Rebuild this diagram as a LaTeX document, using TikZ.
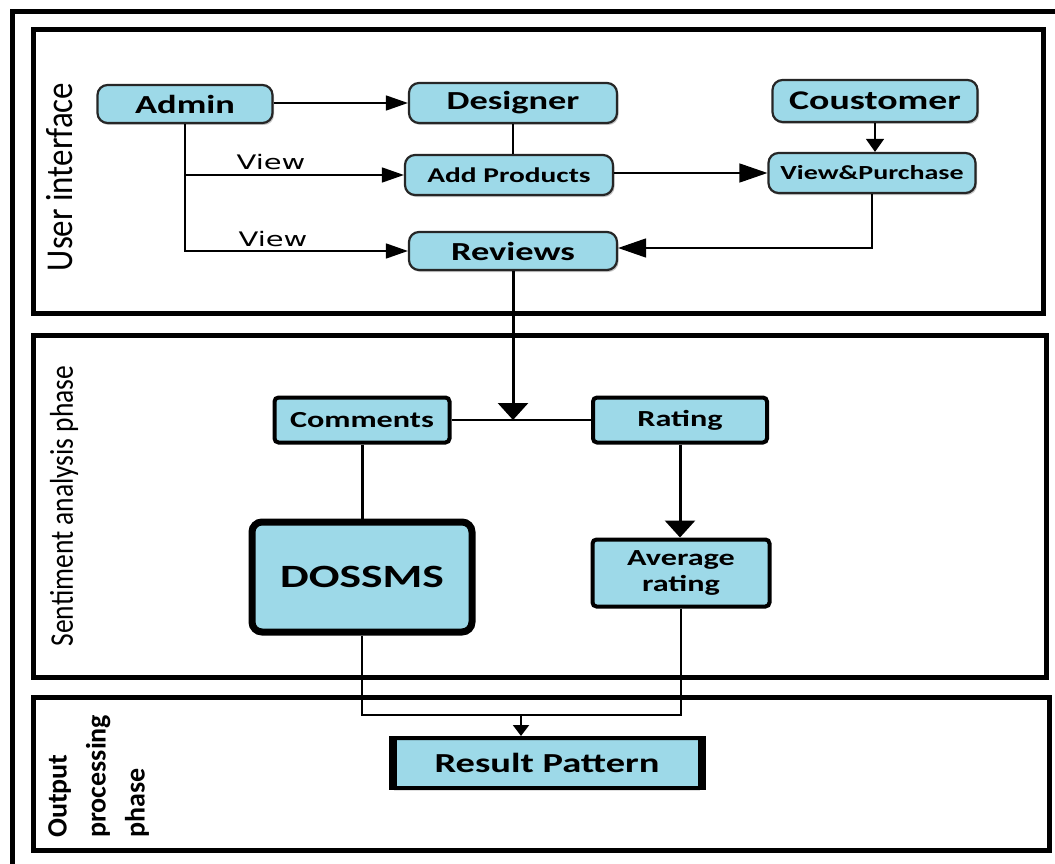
\documentclass[tikz,border=0pt]{standalone}
\usepackage{fontspec}
\usepackage{graphicx}
\setmainfont{Carlito}
\newfontfamily\boxf[FakeStretch=1.4]{Carlito}
\newfontfamily\viewf[FakeStretch=1.45]{DejaVu Sans}
\usetikzlibrary{arrows.meta,shadows}
\definecolor{boxblue}{RGB}{157,217,232}
\newcommand{\fsz}[2][]{\fontsize{#2}{#2}\selectfont}
\begin{document}
\begin{tikzpicture}[x=1pt,y=-1pt,
  topbox/.style={draw=black!85, line width=2.2pt, fill=boxblue, rounded corners=10pt, inner sep=0pt,
    drop shadow={opacity=0.45,shadow xshift=1.5pt,shadow yshift=-2pt}},
  sabox/.style={draw=black, line width=4pt, fill=boxblue, rounded corners=4pt, inner sep=0pt},
  boxtext/.style={font=\boxf\bfseries\fsz{#1}},
  frame/.style={line width=5pt},
  conn/.style={line width=1.5pt},
  thickconn/.style={line width=3pt},
  headA/.style={-{Triangle[length=22pt,width=15pt]}},
  headB/.style={-{Triangle[length=28pt,width=19pt]}},
  headC/.style={-{Triangle[length=13pt,width=18pt]}},
  headD/.style={-{Triangle[length=17pt,width=30pt]}},
  headE/.style={-{Triangle[length=11pt,width=16pt]}},
  viewlab/.style={font=\viewf\fsz{20}, anchor=base, inner sep=0pt}
]
\useasboundingbox (0,0) rectangle (1055,864);
\fill[white] (0,0) rectangle (1055,864);

% frames
\draw[frame] (12,864) -- (12,12) -- (1055,12);
\draw[frame] (33,30) rectangle (1043,313);
\draw[frame] (33,335) rectangle (1046,677);
\draw[frame] (33,697) rectangle (1049,850);

% section labels
\node[rotate=90, font=\fsz{33}, inner sep=0pt] (lui) at (60,177) {\scalebox{1}[1.15]{User interface}};
\node[rotate=90, font=\fsz{27.5}, inner sep=0pt] (lsa) at (64,506) {\scalebox{1}[1.2]{Sentiment analysis phase}};
\node[rotate=90, anchor=north west, align=left, font=\bfseries\fontsize{28}{39}\selectfont, inner sep=0pt] (lop) at (48,838) {Output\\processing\\phase};

% user interface nodes
\node[topbox, boxtext=26, minimum width=175pt, minimum height=38pt] (admin) at (185,104) {Admin};
\node[topbox, boxtext=26, minimum width=208pt, minimum height=40pt] (designer) at (513,103) {Designer};
\node[topbox, boxtext=21, minimum width=208pt, minimum height=40pt] (addprod) at (509,175) {Add Products};
\node[topbox, boxtext=26, minimum width=208pt, minimum height=38pt] (reviews) at (513,251) {Reviews};
\node[topbox, boxtext=27, minimum width=205pt, minimum height=42pt] (cust) at (875,101) {Coustomer};
\node[topbox, boxtext=20, minimum width=207pt, minimum height=40pt] (vp) at (872,173) {View\&Purchase};

% sentiment nodes
\node[sabox, boxtext=23, minimum width=175pt, minimum height=45pt] (comments) at (362,420) {Comments};
\node[sabox, boxtext=23, minimum width=174pt, minimum height=45pt] (rating) at (680,420) {Rating};
\node[sabox, boxtext=32.5, line width=7pt, rounded corners=10pt, minimum width=220pt, minimum height=110pt] (dossms) at (362,577) {DOSSMS};
\node[sabox, align=center, font=\boxf\bfseries\fontsize{23}{26}\selectfont, minimum width=177pt, minimum height=67pt] (avg) at (681,573) {Average\\rating};

% output node
\node[sabox, boxtext=27.5, rounded corners=3pt, minimum width=311pt, minimum height=50pt] (result) at (547,763) {Result Pattern};
\draw[line width=8pt] ([xshift=3pt]result.north west) -- ([xshift=3pt]result.south west);
\draw[line width=8pt] ([xshift=-3pt]result.north east) -- ([xshift=-3pt]result.south east);

% connectors: user interface
\draw[conn, headA] (admin.east |- designer.west) -- (designer.west);
\draw[conn, headA] (admin.south) |- (addprod.west);
\draw[conn, headA] (admin.south) |- (reviews.west);
\node[viewlab] (v1) at (271,170) {View};
\node[viewlab] (v2) at (273,246) {View};
\draw[conn] (designer.south) -- (designer.south |- addprod.north);
\draw[conn, headB] (addprod.east |- vp.west) -- (vp.west);
\draw[conn, headC] (cust.south) -- (cust.south |- vp.north);
\coordinate (vpturn) at (vp.south |- 0,248);
\draw[conn, headB] (vp.south) -- (vpturn) -- (vpturn -| reviews.east);

% connectors: sentiment
\coordinate (split) at (reviews.south |- comments.east);
\draw[thickconn, headD] (reviews.south) -- (split);
\draw[line width=2pt] (comments.east) -- (rating.west);
\draw[thickconn] (comments.south) -- (dossms.north);
\draw[thickconn, headD] (rating.south) -- (rating.south |- avg.north);

% connectors: output
\coordinate (merge) at (521,715);
\draw[line width=2pt] (dossms.south) |- (merge);
\draw[line width=2pt] (avg.south) |- (merge);
\draw[line width=2pt, headE] (merge) -- (merge |- result.north);
\end{tikzpicture}
\end{document}
